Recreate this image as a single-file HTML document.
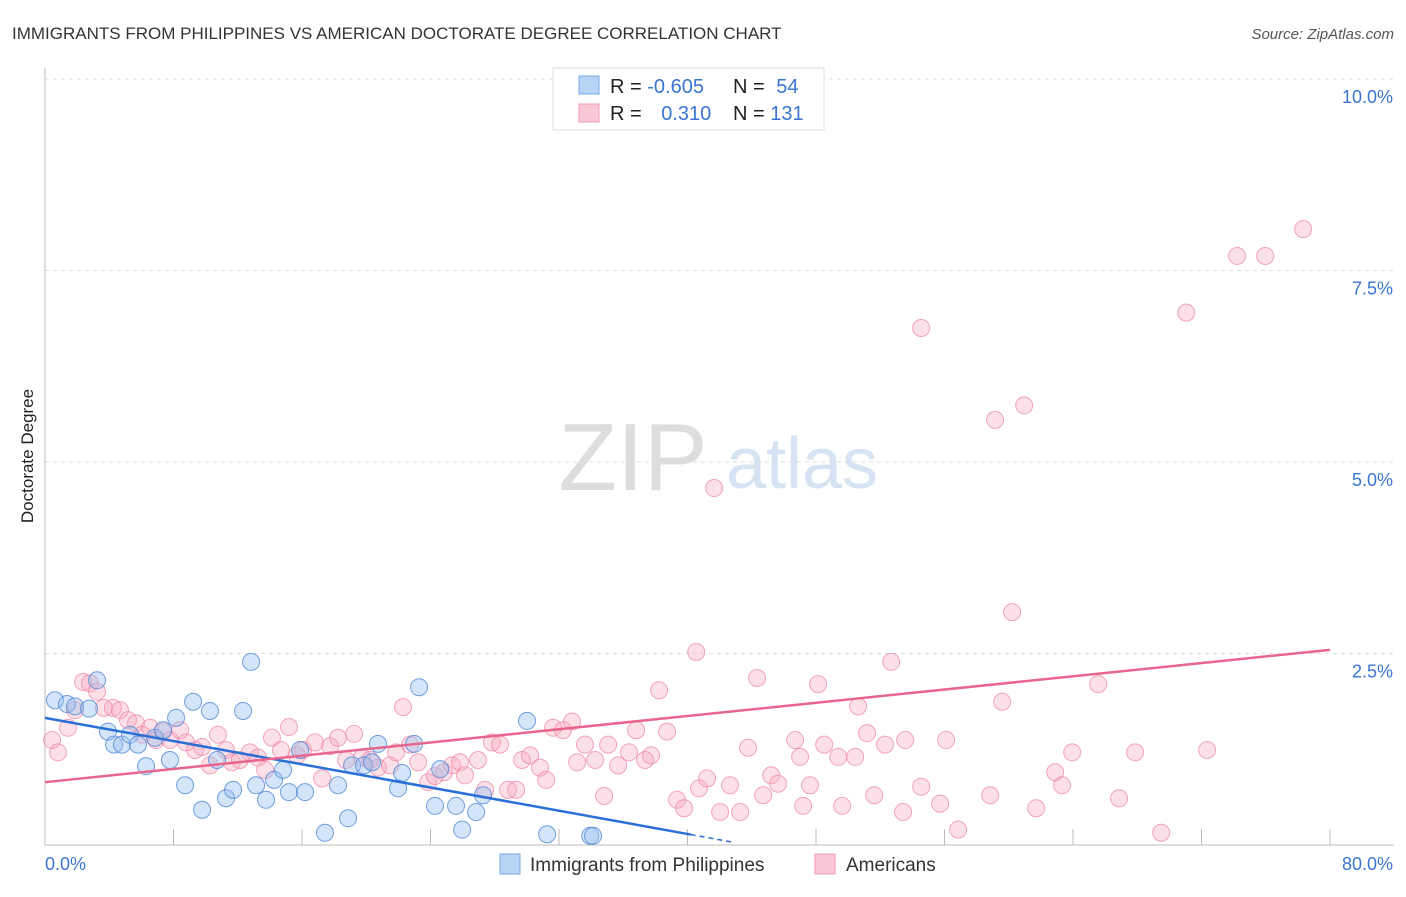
<!DOCTYPE html>
<html><head><meta charset="utf-8"><style>
body{margin:0;background:#fff;font-family:"Liberation Sans",sans-serif;}
svg text{font-family:"Liberation Sans",sans-serif;}
</style></head><body>
<svg id="chart" width="1406" height="892" viewBox="0 0 1406 892" xmlns="http://www.w3.org/2000/svg">
<text x="12" y="39" font-size="17" fill="#333">IMMIGRANTS FROM PHILIPPINES VS AMERICAN DOCTORATE DEGREE CORRELATION CHART</text>
<text x="1394" y="39" font-size="15" fill="#555" font-style="italic" text-anchor="end">Source: ZipAtlas.com</text>
<g>
<text x="633" y="490" font-size="96" fill="#ddd" font-family="Liberation Serif" text-anchor="middle">ZIP</text>
<text x="802" y="488" font-size="72" fill="#d5e3f3" text-anchor="middle">atlas</text>
</g>
<g id="grid"></g>
<g id="axes"></g>
<g id="pink"></g>
<g id="blue"></g>
<g id="lines"></g>
<text transform="translate(33,456) rotate(-90)" font-size="17" fill="#222" text-anchor="middle">Doctorate Degree</text>
<g>
<rect x="553" y="68" width="271" height="62" fill="#fff" stroke="#ddd"/>
<rect x="579" y="76" width="20" height="18" fill="#b8d4f5" stroke="#7aa9e6"/>
<rect x="579" y="104" width="20" height="18" fill="#f9c7d5" stroke="#f29ab4"/>
<text x="610" y="93" font-size="20" fill="#222">R = <tspan fill="#3a76d0">-0.605</tspan></text>
<text x="733" y="93" font-size="20" fill="#222">N = <tspan fill="#3a76d0" dx="6">54</tspan></text>
<text x="610" y="120" font-size="20" fill="#222">R = <tspan fill="#3a76d0" dx="14">0.310</tspan></text>
<text x="733" y="120" font-size="20" fill="#222">N = <tspan fill="#3a76d0">131</tspan></text>
</g>
<g>
<rect x="500" y="854" width="20" height="20" fill="#b8d4f5" stroke="#7aa9e6"/>
<text x="530" y="871" font-size="19" fill="#333">Immigrants from Philippines</text>
<rect x="815" y="854" width="20" height="20" fill="#f9c7d5" stroke="#f29ab4"/>
<text x="846" y="871" font-size="19" fill="#333">Americans</text>
</g>
</svg>
<script>
const blueX=[0.62,1.37,1.87,2.74,3.24,3.92,4.30,4.79,5.29,5.79,6.29,6.85,7.35,7.78,8.16,8.72,9.22,9.78,10.27,10.71,11.27,11.71,12.33,12.83,13.14,13.76,14.26,14.82,15.19,15.88,16.19,17.43,18.24,18.87,19.12,19.86,20.36,20.73,21.98,22.23,22.98,23.29,24.28,24.60,25.59,25.97,26.84,27.27,30.01,31.26,33.94,34.12];
const blueY=[1.89,1.84,1.81,1.78,2.15,1.48,1.31,1.31,1.44,1.31,1.03,1.40,1.50,1.11,1.66,0.78,1.87,0.46,1.75,1.11,0.61,0.72,1.75,2.39,0.78,0.59,0.85,0.98,0.69,1.24,0.69,0.16,0.78,0.35,1.04,1.04,1.08,1.32,0.74,0.94,1.32,2.06,0.51,0.99,0.51,0.20,0.43,0.65,1.62,0.14,0.12,0.12];
const pinkX=[0.44,0.81,1.43,1.87,2.37,2.80,3.24,3.67,4.23,4.67,5.17,5.67,6.04,6.54,6.91,7.35,7.78,8.41,8.78,9.34,9.78,10.27,10.77,11.27,11.64,12.14,12.76,13.26,13.70,14.13,14.69,15.19,15.69,16.06,16.81,17.25,17.75,18.24,18.74,19.24,19.74,20.24,20.73,21.48,21.86,22.29,22.73,23.23,23.85,24.28,24.84,25.34,25.84,26.15,26.96,27.40,27.83,28.33,28.83,29.33,29.70,30.20,30.82,31.20,31.63,32.25,32.81,33.13,33.62,34.25,34.81,35.06,35.68,36.36,36.80,37.36,37.73,38.23,38.73,39.35,39.79,40.54,40.72,41.22,41.66,42.03,42.65,43.28,43.77,44.33,44.71,45.21,45.64,46.70,47.01,47.20,47.63,48.13,48.51,49.38,49.63,50.44,50.62,51.18,51.62,52.30,52.68,53.42,53.55,54.55,54.55,55.73,56.10,56.85,59.15,58.84,59.59,60.21,60.96,61.71,62.89,63.32,63.95,65.57,66.87,67.87,69.49,71.05,72.35,74.22,75.97,78.33];
const pinkY=[1.37,1.21,1.53,1.76,2.13,2.11,2.00,1.79,1.79,1.76,1.63,1.59,1.44,1.53,1.37,1.48,1.37,1.50,1.34,1.24,1.28,1.04,1.44,1.24,1.08,1.11,1.21,1.14,0.98,1.40,1.24,1.54,1.17,1.24,1.34,0.87,1.29,1.40,1.11,1.45,1.14,1.11,1.01,1.04,1.21,1.80,1.31,1.08,0.82,0.90,0.95,1.04,1.08,0.91,1.11,0.72,1.34,1.31,0.72,0.72,1.11,1.17,1.01,0.85,1.53,1.50,1.61,1.08,1.31,1.11,0.64,1.31,1.04,1.21,1.50,1.11,1.17,2.02,1.48,0.59,0.48,2.52,0.74,0.87,4.66,0.43,0.78,0.43,1.27,2.18,0.65,0.91,0.80,1.37,1.15,0.51,0.78,2.10,1.31,1.15,0.51,1.15,1.81,1.46,0.65,1.31,2.39,0.43,1.37,6.75,0.76,0.54,1.37,0.20,5.55,0.65,1.87,3.04,5.74,0.48,0.95,0.78,1.21,2.10,0.61,1.21,0.16,6.95,1.24,7.69,7.69,8.04];
const yTicks=[2.5,5.0,7.5,10.0];
const yTickLabels=["2.5%","5.0%","7.5%","10.0%"];
const xTicks=[8,16,24,32,40,48,56,64,72,80];
const blueTrend=[1.66,-0.0379]; // intercept, slope
const pinkTrend=[0.82,0.0216];

const NS="http://www.w3.org/2000/svg";
const X0=45,X1=1330,Y0=845,Y1=79;
const sx=v=>X0+(v/80)*(X1-X0);
const sy=v=>Y0-(v/10)*(Y0-Y1);
function mk(tag,attrs,parent){const e=document.createElementNS(NS,tag);for(const k in attrs)e.setAttribute(k,attrs[k]);parent.appendChild(e);return e;}
const grid=document.getElementById('grid'),axes=document.getElementById('axes');
yTicks.forEach((t,i)=>{
 const l=mk('line',{x1:X0,x2:1394,y1:sy(t),y2:sy(t),stroke:'#ddd','stroke-dasharray':'4,4'},grid);
 
 
 const tx=mk('text',{x:1393,y:sy(t)+24,'font-size':18,fill:'#3a76d0','text-anchor':'end'},axes);
 tx.textContent=yTickLabels[i];
 
 
});
const al=mk('line',{x1:X0,x2:X0,y1:68,y2:Y0,stroke:'#bbb'},axes);


const bl=mk('line',{x1:X0,x2:1394,y1:Y0,y2:Y0,stroke:'#bbb'},axes);


xTicks.forEach(t=>{
 const l=mk('line',{x1:sx(t),x2:sx(t),y1:Y0-16,y2:Y0,stroke:'#bbb'},axes);
 
 
});
const xl0=mk('text',{x:X0,y:870,'font-size':18,fill:'#3a76d0'},axes);xl0.textContent='0.0%';


const xl1=mk('text',{x:1393,y:870,'font-size':18,fill:'#3a76d0','text-anchor':'end'},axes);xl1.textContent='80.0%';


const pg=document.getElementById('pink');
pinkX.forEach((v,i)=>{
 const c=mk('circle',{cx:sx(v),cy:sy(pinkY[i]),r:8.5,fill:'rgba(246,166,190,0.35)',stroke:'rgba(236,130,162,0.7)','stroke-width':1},pg);
 
 
});
const bg=document.getElementById('blue');
blueX.forEach((v,i)=>{
 const c=mk('circle',{cx:sx(v),cy:sy(blueY[i]),r:8.5,fill:'rgba(150,190,240,0.4)',stroke:'rgba(70,130,210,0.75)','stroke-width':1},bg);
 
 
});
const lg=document.getElementById('lines');
const bEnd=40.2, bDash=42.8;
const b1=mk('line',{x1:sx(0),y1:sy(blueTrend[0]),x2:sx(bEnd),y2:sy(blueTrend[0]+blueTrend[1]*bEnd),stroke:'#2a6fd6','stroke-width':2.5},lg);


const b2=mk('line',{x1:sx(bEnd),y1:sy(blueTrend[0]+blueTrend[1]*bEnd),x2:sx(bDash),y2:sy(blueTrend[0]+blueTrend[1]*bDash),stroke:'#2a6fd6','stroke-width':1.5,'stroke-dasharray':'5,4'},lg);


const p1=mk('line',{x1:sx(0),y1:sy(pinkTrend[0]),x2:sx(80),y2:sy(pinkTrend[0]+pinkTrend[1]*80),stroke:'#e8658d','stroke-width':2.5},lg);


</script>
</body></html>
